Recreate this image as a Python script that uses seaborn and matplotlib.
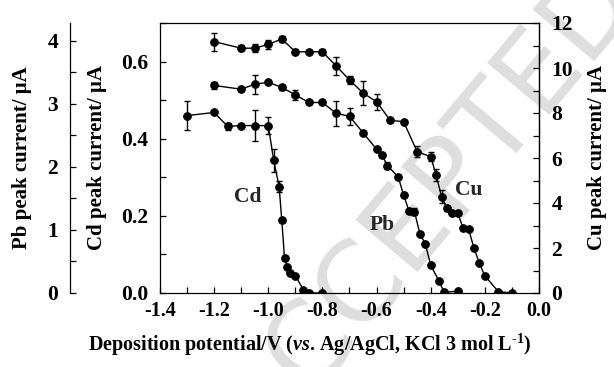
import numpy as np
import pandas as pd
import matplotlib
matplotlib.use("Agg")
import matplotlib.pyplot as plt
import seaborn as sns
from matplotlib.ticker import MultipleLocator

# ---------------- data ----------------
cu_x = [-1.2, -1.1, -1.05, -1.0, -0.95, -0.9, -0.85, -0.8, -0.75, -0.7, -0.65, -0.6,
        -0.55, -0.5, -0.45, -0.4, -0.38, -0.36, -0.34, -0.32, -0.3, -0.28, -0.26,
        -0.24, -0.22, -0.2, -0.15, -0.1]
cu_y = [11.17, 10.88, 10.88, 11.05, 11.29, 10.72, 10.72, 10.72, 10.10, 9.47, 8.89, 8.50,
        7.68, 7.61, 6.28, 6.06, 5.24, 4.28, 3.76, 3.54, 3.54, 2.88, 2.83,
        1.99, 1.32, 0.76, 0.06, 0.0]
cu_err = [0.4, 0.13, 0.18, 0.2, 0.15, 0.12, 0.1, 0.12, 0.4, 0.18, 0.55, 0.35,
          0.1, 0.1, 0.25, 0.2, 0.25, 0.3, 0.1, 0.05, 0.05, 0.05, 0.05,
          0.05, 0.05, 0.05, 0.0, 0.0]

pb_x = [-1.2, -1.1, -1.05, -1.0, -0.95, -0.9, -0.85, -0.8, -0.75, -0.7, -0.65, -0.6,
        -0.58, -0.56, -0.52, -0.5, -0.48, -0.46, -0.44, -0.42, -0.4, -0.37, -0.35, -0.3]
pb_y = [3.29, 3.23, 3.31, 3.34, 3.26, 3.14, 3.02, 3.02, 2.85, 2.80, 2.54, 2.28,
        2.19, 2.02, 1.84, 1.55, 1.30, 1.29, 0.94, 0.78, 0.44, 0.195, 0.01, 0.03]
pb_err = [0.05, 0.03, 0.15, 0.03, 0.04, 0.08, 0.02, 0.02, 0.2, 0.13, 0.02, 0.03,
          0.03, 0.05, 0.03, 0.03, 0.03, 0.06, 0.02, 0.02, 0.03, 0.02, 0.0, 0.0]

cd_x = [-1.3, -1.2, -1.15, -1.1, -1.05, -1.0, -0.98, -0.96, -0.95, -0.94, -0.93,
        -0.92, -0.9, -0.87, -0.85, -0.8]
cd_y = [0.46, 0.468, 0.432, 0.434, 0.434, 0.434, 0.344, 0.276, 0.188, 0.090, 0.067,
        0.053, 0.045, 0.008, 0.0, 0.0]
cd_err = [0.038, 0.005, 0.01, 0.005, 0.041, 0.022, 0.03, 0.015, 0.005, 0.005, 0.0,
          0.0, 0.0, 0.0, 0.0, 0.0]

x_ticks = [-1.4, -1.2, -1.0, -0.8, -0.6, -0.4, -0.2, 0.0]
cd_ticks = [0.0, 0.2, 0.4, 0.6]
pb_ticks = [0, 1, 2, 3, 4]
cu_ticks = [0, 2, 4, 6, 8, 10, 12]

# ---------------- style ----------------
sns.set_theme(style="ticks")
plt.rcParams["font.family"] = ["Liberation Serif", "DejaVu Serif"]
plt.rcParams["font.weight"] = "bold"
plt.rcParams["mathtext.fontset"] = "custom"
plt.rcParams["mathtext.rm"] = "Liberation Serif:bold"
plt.rcParams["mathtext.it"] = "Liberation Serif:italic:bold"
plt.rcParams["mathtext.bf"] = "Liberation Serif:bold"
plt.rcParams["axes.unicode_minus"] = False
plt.rcParams["axes.linewidth"] = 0.9

FSX = 14.5   # x tick labels / xlabel
FSY = 15.5   # y tick labels
FSL = 15     # y axis titles
W, H = 614, 367
fig = plt.figure(figsize=(W / 100, H / 100), dpi=100)
fig.patch.set_facecolor("white")

# watermark (behind everything)
fig.text(0.70, 0.43, "ACCEPTED", rotation=50, fontsize=80, color="#dedede",
         family="DejaVu Sans", weight="normal", ha="center", va="center", zorder=-5)

L, R, T, B = 160, 539, 23, 293
ax = fig.add_axes([L / W, 1 - B / H, (R - L) / W, (B - T) / H])
ax.set_facecolor("none")
ax_pb = ax.twinx()
ax_cu = ax.twinx()
for a in (ax_pb, ax_cu):
    a.set_facecolor("none")

line_kw = dict(color="black", linewidth=1.0, marker="o", markersize=5.5,
               markeredgecolor="black", markerfacecolor="black")
err_kw = dict(fmt="none", ecolor="black", elinewidth=1.0, capsize=2.5, capthick=1.0)

df_cd = pd.DataFrame({"x": cd_x, "y": cd_y})
df_pb = pd.DataFrame({"x": pb_x, "y": pb_y})
df_cu = pd.DataFrame({"x": cu_x, "y": cu_y})

sns.lineplot(data=df_cd, x="x", y="y", ax=ax, legend=False, **line_kw)
ax.errorbar(cd_x, cd_y, yerr=cd_err, **err_kw)
sns.lineplot(data=df_pb, x="x", y="y", ax=ax_pb, legend=False, **line_kw)
ax_pb.errorbar(pb_x, pb_y, yerr=pb_err, **err_kw)
sns.lineplot(data=df_cu, x="x", y="y", ax=ax_cu, legend=False, **line_kw)
ax_cu.errorbar(cu_x, cu_y, yerr=cu_err, **err_kw)

ax.set_xlim(-1.4, 0.0)
ax.set_ylim(0, 0.7)
ax_pb.set_ylim(0, 4.28)
ax_cu.set_ylim(0, 12)

# Cd axis (inner left)
ax.set_xticks(x_ticks)
ax.set_xticklabels([f"{v:.1f}" for v in x_ticks])
ax.xaxis.set_minor_locator(MultipleLocator(0.1))
ax.set_yticks(cd_ticks)
ax.set_yticklabels([f"{v:.1f}" for v in cd_ticks])
ax.yaxis.set_minor_locator(MultipleLocator(0.1))
ax.tick_params(axis="both", which="both", direction="in", length=4, width=0.9,
               colors="black")
ax.tick_params(axis="x", which="both", top=False, pad=6, labelsize=FSX)
ax.tick_params(axis="y", which="both", right=False, pad=8.5, labelsize=FSY)
for s in ("top", "left", "bottom", "right"):
    ax.spines[s].set_visible(True)
    ax.spines[s].set_color("black")

# Pb axis (outer left)
ax_pb.yaxis.set_label_position("left")
ax_pb.yaxis.set_ticks_position("left")
ax_pb.spines["left"].set_position(("outward", 65))
ax_pb.spines["left"].set_visible(True)
ax_pb.spines["left"].set_color("black")
for s in ("top", "bottom", "right"):
    ax_pb.spines[s].set_visible(False)
ax_pb.set_yticks(pb_ticks)
ax_pb.set_yticklabels([str(v) for v in pb_ticks])
ax_pb.yaxis.set_minor_locator(MultipleLocator(0.5))
ax_pb.tick_params(axis="y", which="both", direction="in", length=4, width=0.9,
                  labelsize=FSY, colors="black", pad=8.5, left=True, right=False,
                  labelleft=True, labelright=False)

# Cu axis (right)
for s in ("top", "bottom", "left"):
    ax_cu.spines[s].set_visible(False)
ax_cu.spines["right"].set_color("black")
ax_cu.set_yticks(cu_ticks)
ax_cu.set_yticklabels([str(v) for v in cu_ticks])
ax_cu.yaxis.set_minor_locator(MultipleLocator(1))
ax_cu.tick_params(axis="y", which="both", direction="in", length=4, width=0.9,
                  labelsize=FSY, colors="black", pad=9)

ax.set_xlabel("Deposition potential/V ($\\mathit{vs}$. Ag/AgCl, KCl 3 mol L$^{\\text{-1}}$)",
              fontsize=FSX, fontweight="bold", color="black")
ax.xaxis.set_label_coords((310 - L) / (R - L), -(345 - B) / (B - T))
ax.set_ylabel("Cd peak current/ \u03bcA", fontsize=FSL, fontweight="bold", color="black")
ax.yaxis.set_label_coords(-(L - 97) / (R - L), 0.5)
ax_pb.set_ylabel("Pb peak current/ \u03bcA", fontsize=FSL, fontweight="bold", color="black")
ax_pb.yaxis.set_label_coords(-(L - 22) / (R - L), 0.5)
ax_cu.set_ylabel("Cu peak current/ \u03bcA", fontsize=FSL, fontweight="bold", color="black",
                 rotation=90)
ax_cu.yaxis.set_label_coords(1 + (597 - R) / (R - L), 0.5)

for lab in (ax.yaxis.label, ax_pb.yaxis.label, ax_cu.yaxis.label):
    lab.set_va("center")
    lab.set_ha("center")
ax.xaxis.label.set_va("center")

# curve labels (Cd-axis data coordinates)
ax.text(-1.075, 0.25, "Cd", fontsize=FSY, fontweight="bold", ha="center", va="center")
ax.text(-0.58, 0.177, "Pb", fontsize=FSY, fontweight="bold", ha="center", va="center")
ax.text(-0.258, 0.268, "Cu", fontsize=FSY, fontweight="bold", ha="center", va="center")

fig.savefig("out.png", dpi=100, facecolor="white")
